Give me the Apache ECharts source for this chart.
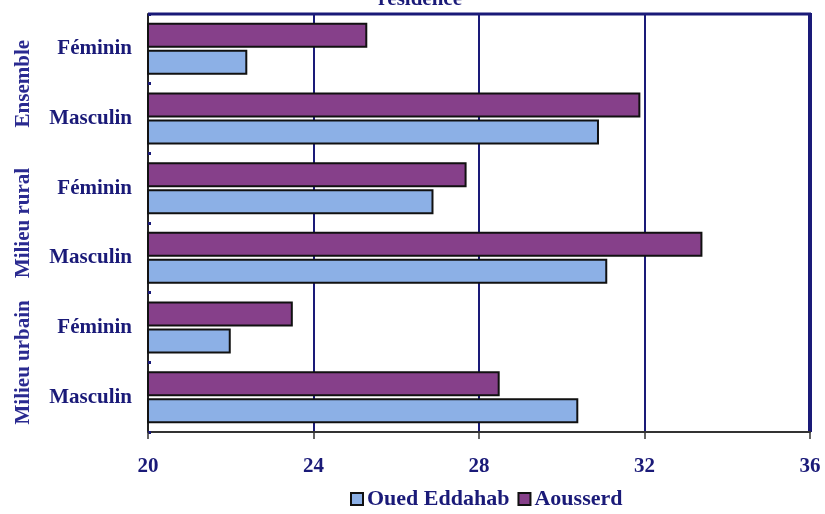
<!DOCTYPE html>
<html><head><meta charset="utf-8">
<script src="https://cdn.jsdelivr.net/npm/echarts@6/dist/echarts.min.js"></script>
<style>html,body{margin:0;padding:0;background:#fff}#c{width:825px;height:514px}</style>
</head><body><div id="c"></div>
<script>
var categories = ['Masculin','Féminin','Masculin','Féminin','Masculin','Féminin'];
var groups = ['Milieu urbain','Milieu rural','Ensemble'];
var oued = [30.4, 22.0, 31.1, 26.9, 30.9, 22.4];
var aousserd = [28.5, 23.5, 33.4, 27.7, 31.9, 25.3];
var seriesNames = ['Oued Eddahab','Aousserd'];
var titleText = 'résidence';

var navy = '#1a1a78';
var font = 'Liberation Serif';
var chart = echarts.init(document.getElementById('c'));
chart.setOption({
  animation: false,
  title: {
    text: titleText, left: 415, top: -16, textAlign: 'center',
    textStyle: {fontFamily: font, fontWeight: 'bold', fontSize: 21, color: navy}
  },
  legend: {
    data: seriesNames, bottom: -1, left: 345, itemWidth: 12, itemHeight: 12, itemGap: 8,
    icon: 'rect',
    textStyle: {fontFamily: font, fontWeight: 'bold', fontSize: 22, color: navy, padding: [0,0,0,-1]}
  },
  grid: {left: 148, right: 15, top: 14, bottom: 82},
  xAxis: {
    type: 'value', min: 20, max: 36, interval: 4,
    axisLine: {show: true, lineStyle: {color: '#333', width: 2}},
    axisTick: {show: true, length: 7, lineStyle: {color: '#333', width: 1.5}},
    axisLabel: {fontFamily: font, fontWeight: 'bold', fontSize: 21, color: navy, margin: 24},
    splitLine: {show: true, lineStyle: {color: navy, width: 2}}
  },
  yAxis: [{
    type: 'category', data: categories,
    axisLine: {show: true, onZero: false, lineStyle: {color: '#222', width: 2}},
    axisTick: {show: true, inside: true, length: 3, lineStyle: {color: navy, width: 3}},
    axisLabel: {interval: 0, fontFamily: font, fontWeight: 'bold', fontSize: 21, color: navy, margin: 16}
  }, {
    type: 'category', data: groups, position: 'left', offset: 114,
    axisLine: {show: false}, axisTick: {show: false},
    axisLabel: {interval: 0, hideOverlap: false, rotate: 90, fontFamily: font, fontWeight: 'bold', fontSize: 21, color: '#2a2a90', margin: 0}
  }],
  graphic: [
    {type: 'line', shape: {x1: 148, y1: 14, x2: 811, y2: 14}, style: {stroke: navy, lineWidth: 3}},
    {type: 'line', shape: {x1: 810, y1: 13, x2: 810, y2: 432}, style: {stroke: navy, lineWidth: 4}}
  ],
  series: [{
    name: seriesNames[1], type: 'bar', data: aousserd, yAxisIndex: 0,
    barWidth: 25, barGap: '8%',
    itemStyle: {color: '#86408a', borderColor: '#111', borderWidth: 2}
  }, {
    name: seriesNames[0], type: 'bar', data: oued, yAxisIndex: 0,
    barWidth: 25, barGap: '8%',
    itemStyle: {color: '#8cb0e6', borderColor: '#111', borderWidth: 2}
  }]
});
</script></body></html>
